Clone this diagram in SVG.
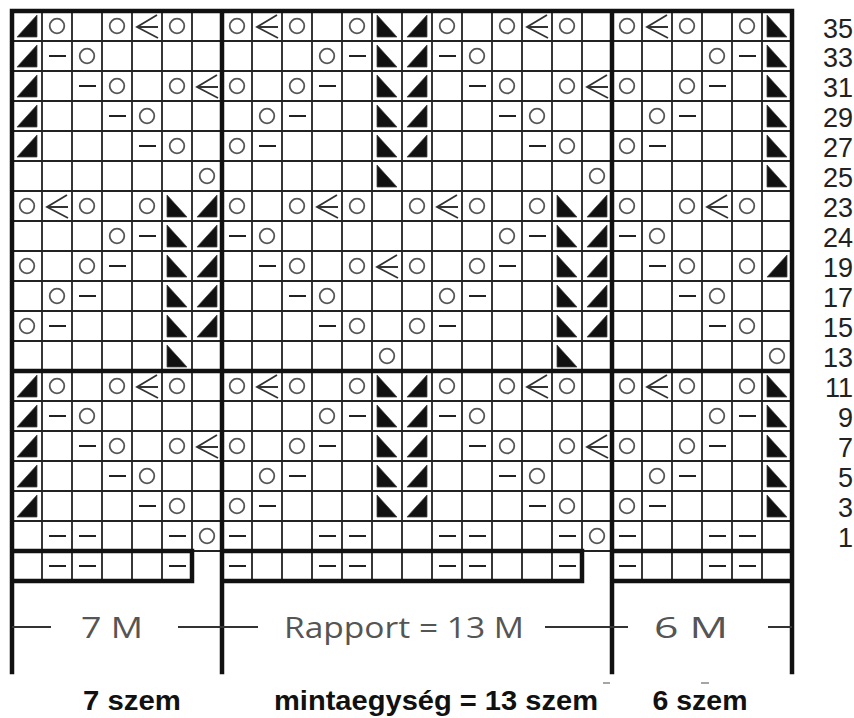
<svg xmlns="http://www.w3.org/2000/svg" xmlns:xlink="http://www.w3.org/1999/xlink" width="854" height="718" viewBox="0 0 854 718">
<style>
.thin{fill:none;stroke:#222;stroke-width:1.8}
.thick{fill:none;stroke:#111;stroke-width:4.5;stroke-linecap:square}
.dim{fill:none;stroke:#333;stroke-width:2}
.yo{fill:none;stroke:#555;stroke-width:1.8}
.dash{stroke:#222;stroke-width:2}
.dec{fill:none;stroke:#333;stroke-width:1.8}
.tri{fill:#111;stroke:#444;stroke-width:0.8}
.num{font-family:"Liberation Sans",Arial,sans-serif;font-size:27px;fill:#222;text-anchor:end}
.lt{font-family:"Open Sans","Liberation Sans",sans-serif;font-size:30px;fill:#555;text-anchor:middle}
.bd{font-family:"Liberation Sans",Arial,sans-serif;font-weight:bold;font-size:28px;fill:#111;text-anchor:middle}
</style>
<defs>
<circle id="o" class="yo" cx="15" cy="15" r="7.3"/>
<line id="d" class="dash" x1="7" y1="15" x2="24" y2="15"/>
<path id="k" class="dec" d="M25 4 L5 16 L26 27 M5 16 H26"/>
<path id="L" class="tri" d="M5 26 H25 V4 Z"/>
<path id="R" class="tri" d="M5 4 V26 H25 Z"/>
</defs>
<rect width="854" height="718" fill="#fff"/>
<g id="grid">
<path class="thin" d="M42 11V551M72 11V551M102 11V551M132 11V551M162 11V551M192 11V551M252 11V551M282 11V551M312 11V551M342 11V551M372 11V551M402 11V551M432 11V551M462 11V551M492 11V551M522 11V551M552 11V551M582 11V551M642 11V551M672 11V551M702 11V551M732 11V551M762 11V551"/>
<path class="thin" d="M12 41H792M12 71H792M12 101H792M12 131H792M12 161H792M12 191H792M12 221H792M12 251H792M12 281H792M12 311H792M12 341H792M12 401H792M12 431H792M12 461H792M12 491H792M12 521H792M192 551H222M582 551H612"/>
<path class="thin" d="M42 551V581M72 551V581M102 551V581M132 551V581M162 551V581M252 551V581M282 551V581M312 551V581M342 551V581M372 551V581M402 551V581M432 551V581M462 551V581M492 551V581M522 551V581M552 551V581M642 551V581M672 551V581M702 551V581M732 551V581M762 551V581"/>
<path class="thick" d="M12 11H792M12 11V672M222 11V672M612 11V672M792 11V672M12 371H792M12 551H192M222 551H582M612 551H792M12 581H192V551M222 581H582V551M612 581H792"/>
</g>
<g id="stitches">
<g id="row35" transform="translate(0,11)">
<use href="#L" x="12"/><use href="#o" x="42"/><use href="#o" x="102"/><use href="#k" x="132"/><use href="#o" x="162"/>
<use href="#o" x="222"/><use href="#k" x="252"/><use href="#o" x="282"/><use href="#o" x="342"/><use href="#R" x="372"/><use href="#L" x="402"/><use href="#o" x="432"/><use href="#o" x="492"/><use href="#k" x="522"/><use href="#o" x="552"/>
<use href="#o" x="612"/><use href="#k" x="642"/><use href="#o" x="672"/><use href="#o" x="732"/><use href="#R" x="762"/>
</g>
<g id="row33" transform="translate(0,41)">
<use href="#L" x="12"/><use href="#d" x="42"/><use href="#o" x="72"/>
<use href="#o" x="312"/><use href="#d" x="342"/><use href="#R" x="372"/><use href="#L" x="402"/><use href="#d" x="432"/><use href="#o" x="462"/>
<use href="#o" x="702"/><use href="#d" x="732"/><use href="#R" x="762"/>
</g>
<g id="row31" transform="translate(0,71)">
<use href="#L" x="12"/><use href="#d" x="72"/><use href="#o" x="102"/><use href="#o" x="162"/><use href="#k" x="192"/>
<use href="#o" x="222"/><use href="#o" x="282"/><use href="#d" x="312"/><use href="#R" x="372"/><use href="#L" x="402"/><use href="#d" x="462"/><use href="#o" x="492"/><use href="#o" x="552"/><use href="#k" x="582"/>
<use href="#o" x="612"/><use href="#o" x="672"/><use href="#d" x="702"/><use href="#R" x="762"/>
</g>
<g id="row29" transform="translate(0,101)">
<use href="#L" x="12"/><use href="#d" x="102"/><use href="#o" x="132"/>
<use href="#o" x="252"/><use href="#d" x="282"/><use href="#R" x="372"/><use href="#L" x="402"/><use href="#d" x="492"/><use href="#o" x="522"/>
<use href="#o" x="642"/><use href="#d" x="672"/><use href="#R" x="762"/>
</g>
<g id="row27" transform="translate(0,131)">
<use href="#L" x="12"/><use href="#d" x="132"/><use href="#o" x="162"/>
<use href="#o" x="222"/><use href="#d" x="252"/><use href="#R" x="372"/><use href="#L" x="402"/><use href="#d" x="522"/><use href="#o" x="552"/>
<use href="#o" x="612"/><use href="#d" x="642"/><use href="#R" x="762"/>
</g>
<g id="row25" transform="translate(0,161)">
<use href="#o" x="192"/><use href="#R" x="372"/><use href="#o" x="582"/><use href="#R" x="762"/>
</g>
<g id="row23" transform="translate(0,191)">
<use href="#o" x="12"/><use href="#k" x="42"/><use href="#o" x="72"/><use href="#o" x="132"/><use href="#R" x="162"/><use href="#L" x="192"/>
<use href="#o" x="222"/><use href="#o" x="282"/><use href="#k" x="312"/><use href="#o" x="342"/><use href="#o" x="402"/><use href="#k" x="432"/><use href="#o" x="462"/><use href="#o" x="522"/><use href="#R" x="552"/><use href="#L" x="582"/>
<use href="#o" x="612"/><use href="#o" x="672"/><use href="#k" x="702"/><use href="#o" x="732"/>
</g>
<g id="row24" transform="translate(0,221)">
<use href="#o" x="102"/><use href="#d" x="132"/><use href="#R" x="162"/><use href="#L" x="192"/>
<use href="#d" x="222"/><use href="#o" x="252"/><use href="#o" x="492"/><use href="#d" x="522"/><use href="#R" x="552"/><use href="#L" x="582"/>
<use href="#d" x="612"/><use href="#o" x="642"/>
</g>
<g id="row19" transform="translate(0,251)">
<use href="#o" x="12"/><use href="#o" x="72"/><use href="#d" x="102"/><use href="#R" x="162"/><use href="#L" x="192"/>
<use href="#d" x="252"/><use href="#o" x="282"/><use href="#o" x="342"/><use href="#k" x="372"/><use href="#o" x="402"/><use href="#o" x="462"/><use href="#d" x="492"/><use href="#R" x="552"/><use href="#L" x="582"/>
<use href="#d" x="642"/><use href="#o" x="672"/><use href="#o" x="732"/><use href="#L" x="762"/>
</g>
<g id="row17" transform="translate(0,281)">
<use href="#o" x="42"/><use href="#d" x="72"/><use href="#R" x="162"/><use href="#L" x="192"/>
<use href="#d" x="282"/><use href="#o" x="312"/><use href="#o" x="432"/><use href="#d" x="462"/><use href="#R" x="552"/><use href="#L" x="582"/>
<use href="#d" x="672"/><use href="#o" x="702"/>
</g>
<g id="row15" transform="translate(0,311)">
<use href="#o" x="12"/><use href="#d" x="42"/><use href="#R" x="162"/><use href="#L" x="192"/>
<use href="#d" x="312"/><use href="#o" x="342"/><use href="#o" x="402"/><use href="#d" x="432"/><use href="#R" x="552"/><use href="#L" x="582"/>
<use href="#d" x="702"/><use href="#o" x="732"/>
</g>
<g id="row13" transform="translate(0,341)">
<use href="#R" x="162"/><use href="#o" x="372"/><use href="#R" x="552"/><use href="#o" x="762"/>
</g>
<g id="row11" transform="translate(0,371)">
<use href="#L" x="12"/><use href="#o" x="42"/><use href="#o" x="102"/><use href="#k" x="132"/><use href="#o" x="162"/>
<use href="#o" x="222"/><use href="#k" x="252"/><use href="#o" x="282"/><use href="#o" x="342"/><use href="#R" x="372"/><use href="#L" x="402"/><use href="#o" x="432"/><use href="#o" x="492"/><use href="#k" x="522"/><use href="#o" x="552"/>
<use href="#o" x="612"/><use href="#k" x="642"/><use href="#o" x="672"/><use href="#o" x="732"/><use href="#R" x="762"/>
</g>
<g id="row9" transform="translate(0,401)">
<use href="#L" x="12"/><use href="#d" x="42"/><use href="#o" x="72"/>
<use href="#o" x="312"/><use href="#d" x="342"/><use href="#R" x="372"/><use href="#L" x="402"/><use href="#d" x="432"/><use href="#o" x="462"/>
<use href="#o" x="702"/><use href="#d" x="732"/><use href="#R" x="762"/>
</g>
<g id="row7" transform="translate(0,431)">
<use href="#L" x="12"/><use href="#d" x="72"/><use href="#o" x="102"/><use href="#o" x="162"/><use href="#k" x="192"/>
<use href="#o" x="222"/><use href="#o" x="282"/><use href="#d" x="312"/><use href="#R" x="372"/><use href="#L" x="402"/><use href="#d" x="462"/><use href="#o" x="492"/><use href="#o" x="552"/><use href="#k" x="582"/>
<use href="#o" x="612"/><use href="#o" x="672"/><use href="#d" x="702"/><use href="#R" x="762"/>
</g>
<g id="row5" transform="translate(0,461)">
<use href="#L" x="12"/><use href="#d" x="102"/><use href="#o" x="132"/>
<use href="#o" x="252"/><use href="#d" x="282"/><use href="#R" x="372"/><use href="#L" x="402"/><use href="#d" x="492"/><use href="#o" x="522"/>
<use href="#o" x="642"/><use href="#d" x="672"/><use href="#R" x="762"/>
</g>
<g id="row3" transform="translate(0,491)">
<use href="#L" x="12"/><use href="#d" x="132"/><use href="#o" x="162"/>
<use href="#o" x="222"/><use href="#d" x="252"/><use href="#R" x="372"/><use href="#L" x="402"/><use href="#d" x="522"/><use href="#o" x="552"/>
<use href="#o" x="612"/><use href="#d" x="642"/><use href="#R" x="762"/>
</g>
<g id="row1" transform="translate(0,521)">
<use href="#d" x="42"/><use href="#d" x="72"/><use href="#d" x="162"/><use href="#o" x="192"/>
<use href="#d" x="222"/><use href="#d" x="312"/><use href="#d" x="342"/><use href="#d" x="432"/><use href="#d" x="462"/><use href="#d" x="552"/><use href="#o" x="582"/>
<use href="#d" x="612"/><use href="#d" x="702"/><use href="#d" x="732"/>
</g>
<g id="row0" transform="translate(0,551)">
<use href="#d" x="42"/><use href="#d" x="72"/><use href="#d" x="162"/>
<use href="#d" x="222"/><use href="#d" x="312"/><use href="#d" x="342"/><use href="#d" x="432"/><use href="#d" x="462"/><use href="#d" x="552"/>
<use href="#d" x="612"/><use href="#d" x="702"/><use href="#d" x="732"/>
</g>
</g>
<g id="row-numbers">
<text class="num" x="853" y="38">35</text>
<text class="num" x="853" y="67">33</text>
<text class="num" x="853" y="97">31</text>
<text class="num" x="853" y="127">29</text>
<text class="num" x="853" y="157">27</text>
<text class="num" x="853" y="187">25</text>
<text class="num" x="853" y="217">23</text>
<text class="num" x="853" y="247">24</text>
<text class="num" x="853" y="277">19</text>
<text class="num" x="853" y="307">17</text>
<text class="num" x="853" y="337">15</text>
<text class="num" x="853" y="367">13</text>
<text class="num" x="853" y="397">11</text>
<text class="num" x="853" y="427">9</text>
<text class="num" x="853" y="457">7</text>
<text class="num" x="853" y="487">5</text>
<text class="num" x="853" y="517">3</text>
<text class="num" x="853" y="547">1</text>
</g>
<g id="dimensions">
<path class="dim" d="M12 627H51M178 627H258M545 627H628M768 627H792"/>
<path d="M603 683H610M701 683H709" stroke="#888" stroke-width="1.5"/>
<text class="lt" x="112" y="638" textLength="62" lengthAdjust="spacingAndGlyphs">7 M</text>
<text class="lt" x="404" y="638" textLength="240" lengthAdjust="spacingAndGlyphs">Rapport = 13 M</text>
<text class="lt" x="691" y="638" textLength="74" lengthAdjust="spacingAndGlyphs">6 M</text>
</g>
<g id="captions">
<text class="bd" x="132" y="710" textLength="98" lengthAdjust="spacingAndGlyphs">7 szem</text>
<text class="bd" x="436" y="710" textLength="324" lengthAdjust="spacingAndGlyphs">mintaegység = 13 szem</text>
<text class="bd" x="700" y="710" textLength="95" lengthAdjust="spacingAndGlyphs">6 szem</text>
</g>
</svg>
